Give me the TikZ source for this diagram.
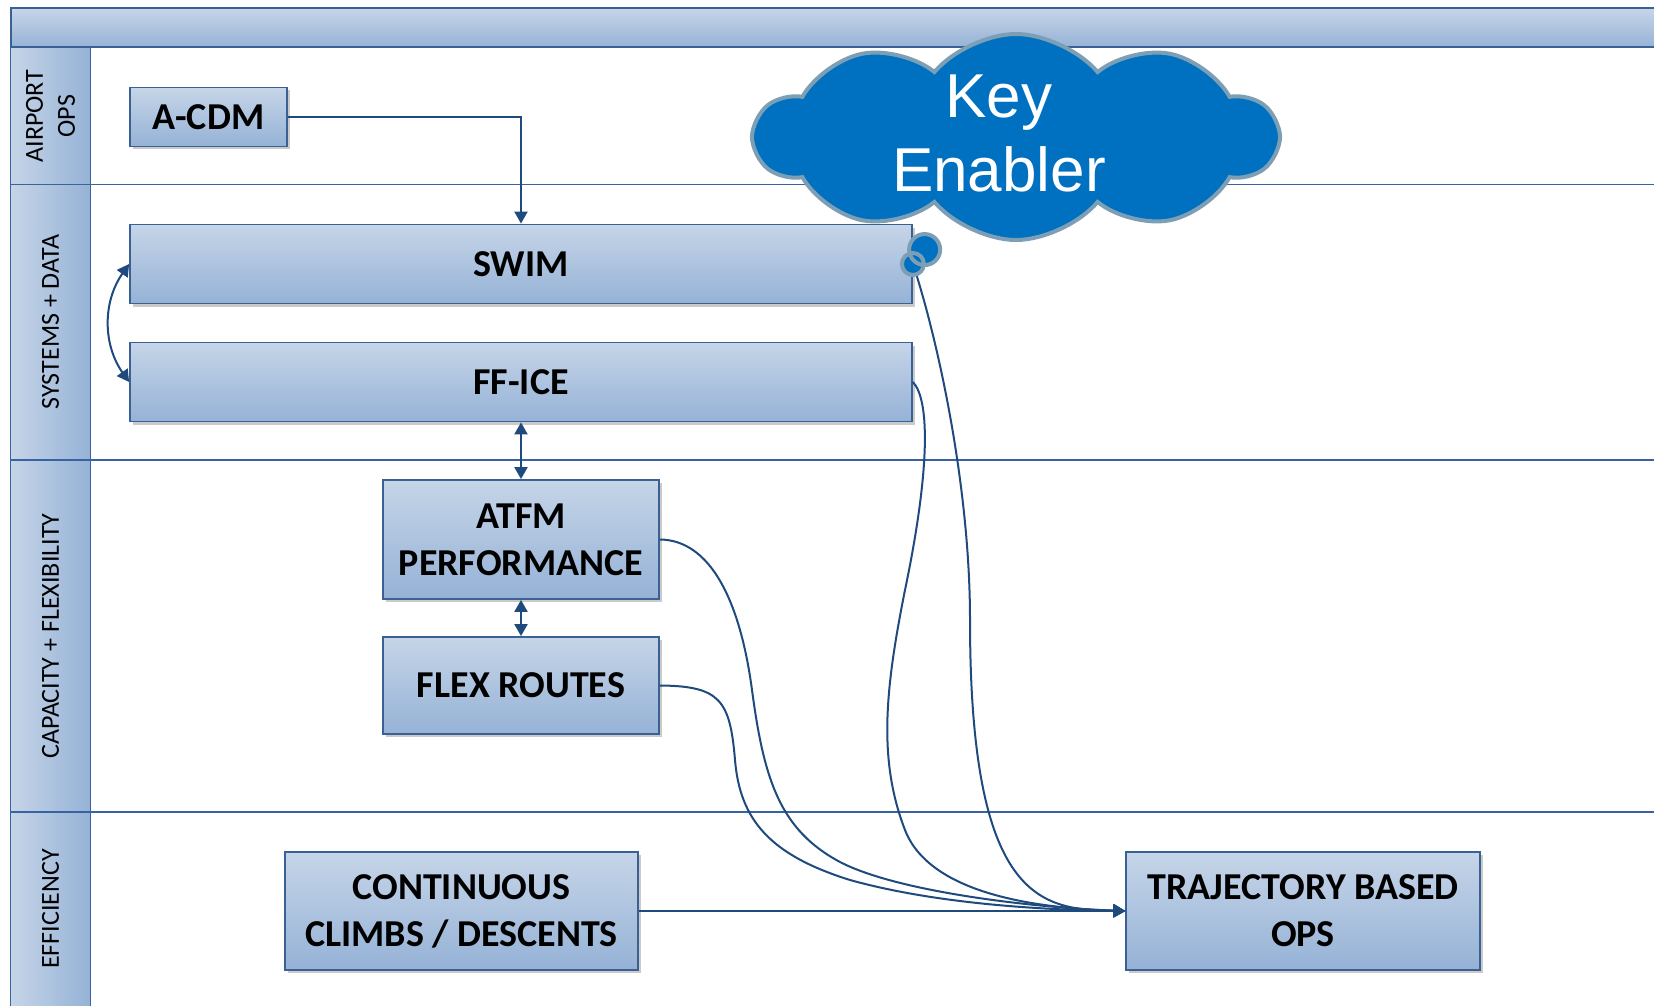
\documentclass[tikz,border=0pt]{standalone}
\usepackage{fontspec}
\setmainfont{Carlito}
\newfontfamily\cloudfont{Liberation Sans}
\usetikzlibrary{arrows.meta,shapes.callouts,shadows}
\definecolor{boxtop}{HTML}{C6D5E8}
\definecolor{boxbot}{HTML}{95B2D6}
\definecolor{boxline}{HTML}{3A6094}
\definecolor{connblue}{HTML}{1F4A7E}
\definecolor{laneline}{HTML}{3863A0}
\definecolor{cloudfill}{HTML}{0070C0}
\definecolor{cloudrim}{HTML}{7C9FB6}

\begin{document}
\begin{tikzpicture}[x=1pt,y=-1pt,
	block/.style={draw=boxline,line width=1.8pt,top color=boxtop,bottom color=boxbot,
		drop shadow={shadow xshift=3pt,shadow yshift=-3pt,opacity=0.35,fill=black!60},
		align=center,inner sep=0pt,font=\bfseries\fontsize{38}{47}\selectfont},
	lanelabel/.style={rotate=90,align=center,font=\fontsize{26}{32}\selectfont},
	conn/.style={draw=connblue,line width=2pt,-{Triangle[width=13pt,length=12pt]}},
	biconn/.style={conn,{Triangle[width=13pt,length=12pt]}-{Triangle[width=13pt,length=12pt]}}]
	\useasboundingbox (0,0) rectangle (1654,1006);

	\shade[left color=boxtop,right color=boxbot] (10.5,47.5) rectangle (90.7,1010);%lane column
	\draw[laneline,line width=1.5pt] (10.5,47.5) -- (10.5,1010);
	\draw[laneline,line width=1.5pt] (90.7,47.5) -- (90.7,1010);
	\shade[top color=boxtop,bottom color=boxbot] (10.5,8.4) rectangle (1660,47.5);%header
	\draw[boxline,line width=2pt] (1660,8.4) -- (10.5,8.4) -- (10.5,47.5) -- (1660,47.5);
	\foreach \y in {184.6,459.9,812.2}
		\draw[laneline,line width=1.5pt] (10.5,\y) -- (1660,\y);%lane borders

	\node[lanelabel] (lairport) at (50.6,116) {AIRPORT\\OPS};
	\node[lanelabel] (lsystems) at (50.6,322) {SYSTEMS + DATA};
	\node[lanelabel] (lcapacity) at (50.6,636) {CAPACITY + FLEXIBILITY};
	\node[lanelabel] (lefficiency) at (50.6,909) {EFFICIENCY};

	\node[block,minimum width=157pt,minimum height=59pt] (acdm) at (208.5,117) {A-CDM};
	\node[block,minimum width=782pt,minimum height=79pt] (swim) at (521,264) {SWIM};
	\node[block,minimum width=782pt,minimum height=79pt] (ffice) at (521,382) {FF-ICE};
	\node[block,minimum width=276pt,minimum height=119pt] (atfm) at (521,539.5) {ATFM\\PERFORMANCE};
	\node[block,minimum width=276pt,minimum height=97pt] (flex) at (521,685.5) {FLEX ROUTES};
	\node[block,minimum width=353pt,minimum height=118pt] (ccd) at (461.5,911) {CONTINUOUS\\CLIMBS / DESCENTS};
	\node[block,minimum width=353.5pt,minimum height=118pt] (tbo) at (1303,911) {TRAJECTORY BASED\\OPS};

	\draw[conn] (acdm.east) -| (swim.north);
	\draw[biconn] (swim.west) to[bend right=35] (ffice.west);
	\draw[biconn] (ffice.south) -- (atfm.north);
	\draw[biconn] (atfm.south) -- (flex.north);
	\draw[conn] (ccd.east) -- (tbo.west);
	\draw[conn] (swim.east) .. controls (935,330) and (970,480) .. (970,620)
		.. controls (970,900) and (1040,910) .. (tbo.west);%from SWIM
	\draw[conn] (ffice.east) .. controls (930,400) and (930,470) .. (905,590)
		.. controls (885,690) and (878,760) .. (905,830)
		.. controls (929,892) and (1030,908) .. (tbo.west);%from FF-ICE
	\draw[conn] (atfm.east) .. controls (710,540) and (740,600) .. (752,690)
		.. controls (764,780) and (780,830) .. (840,862)
		.. controls (900,893) and (1040,908) .. (tbo.west);%from ATFM
	\draw[conn] (flex.east) .. controls (720,686) and (730,700) .. (735,760)
		.. controls (740,820) and (770,855) .. (850,880)
		.. controls (940,905) and (1050,910) .. (tbo.west);%from FLEX

	\node[cloud callout,cloud puffs=10,cloud puff arc=100,minimum width=522pt,minimum height=206pt,inner sep=0pt,
		fill=cloudfill,draw=cloudrim,line width=4pt,
		callout absolute pointer={(swim.east)},callout pointer start size=40pt,callout pointer end size=22pt]
		(enabler) at (1016,137) {};
	\node[text=white,align=center,font={\cloudfont\fontsize{62}{74}\selectfont}]
		(keytext) at (999,133) {Key\\Enabler};
\end{tikzpicture}
\end{document}
